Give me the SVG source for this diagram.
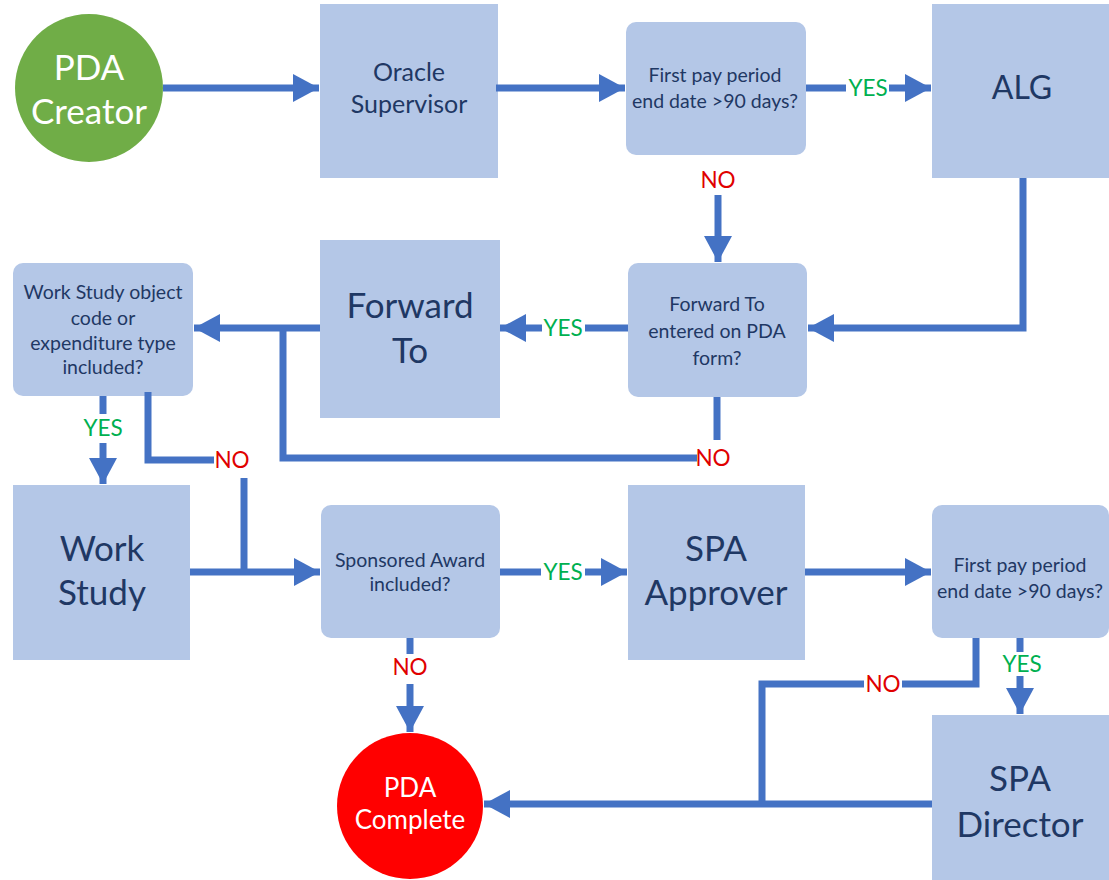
<svg xmlns="http://www.w3.org/2000/svg" width="1109" height="880" viewBox="0 0 1109 880">
<style>
.box{fill:#b4c7e7}
.t{font-family:Lato,"Open Sans",sans-serif;fill:#1f3864;text-anchor:middle}
.d{font-size:19.5px}
.big{font-size:35px}
.w{font-family:Lato,"Open Sans",sans-serif;fill:#ffffff;text-anchor:middle}
.c{fill:none;stroke:#4472c4;stroke-width:7}
.a{marker-end:url(#ah)}
.yes{font-family:Lato,"Open Sans",sans-serif;fill:#00b050;font-size:22.5px;text-anchor:middle}
.no{font-family:Lato,"Open Sans",sans-serif;fill:#e00000;font-size:22.5px;text-anchor:middle}
</style>
<defs>
<marker id="ah" viewBox="0 0 26 28" markerWidth="26" markerHeight="28" refX="26" refY="14" orient="auto" markerUnits="userSpaceOnUse">
<path d="M0,0 L26,14 L0,28 z" fill="#4472c4"/>
</marker>
</defs>
<rect width="1109" height="880" fill="#ffffff"/>

<g id="pda-creator">
<circle cx="89" cy="88" r="74" fill="#70ad47"/>
<text class="w" x="89" y="80" font-size="35">PDA</text>
<text class="w" x="89" y="124" font-size="35">Creator</text>
</g>
<g id="oracle-supervisor">
<rect class="box" x="320" y="4" width="178" height="174"/>
<text class="t" x="409" y="81" font-size="25">Oracle</text>
<text class="t" x="409" y="113" font-size="25">Supervisor</text>
</g>
<g id="decision-90days-1">
<rect class="box" x="626" y="22" width="180" height="133" rx="10"/>
<text class="t d" x="715" y="82">First pay period</text>
<text class="t d" x="715" y="108">end date &gt;90 days?</text>
</g>
<g id="alg">
<rect class="box" x="932" y="4" width="177" height="174"/>
<text class="t" x="1022" y="99" font-size="32">ALG</text>
</g>
<g id="decision-forward">
<rect class="box" x="628" y="263" width="179" height="134" rx="10"/>
<text class="t d" x="717" y="311">Forward To</text>
<text class="t d" x="717" y="338">entered on PDA</text>
<text class="t d" x="717" y="365">form?</text>
</g>
<g id="forward-to">
<rect class="box" x="320" y="240" width="180" height="178"/>
<text class="t big" x="410" y="318">Forward</text>
<text class="t big" x="410" y="363">To</text>
</g>
<g id="decision-workstudy">
<rect class="box" x="13" y="263" width="180" height="133" rx="10"/>
<text class="t d" x="103" y="299">Work Study object</text>
<text class="t d" x="103" y="325">code or</text>
<text class="t d" x="103" y="350">expenditure type</text>
<text class="t d" x="103" y="374">included?</text>
</g>
<g id="work-study">
<rect class="box" x="13" y="485" width="177" height="175"/>
<text class="t big" x="102" y="561">Work</text>
<text class="t big" x="102" y="605">Study</text>
</g>
<g id="decision-sponsored">
<rect class="box" x="321" y="505" width="179" height="133" rx="10"/>
<text class="t d" x="410" y="567">Sponsored Award</text>
<text class="t d" x="410" y="591">included?</text>
</g>
<g id="spa-approver">
<rect class="box" x="628" y="485" width="177" height="175"/>
<text class="t big" x="716" y="561">SPA</text>
<text class="t big" x="716" y="605">Approver</text>
</g>
<g id="decision-90days-2">
<rect class="box" x="932" y="505" width="177" height="133" rx="10"/>
<text class="t d" x="1020" y="572">First pay period</text>
<text class="t d" x="1020" y="598">end date &gt;90 days?</text>
</g>
<g id="spa-director">
<rect class="box" x="932" y="715" width="177" height="165"/>
<text class="t big" x="1020" y="791">SPA</text>
<text class="t big" x="1020" y="837">Director</text>
</g>
<g id="pda-complete">
<circle cx="410" cy="806" r="73" fill="#ff0000"/>
<text class="w" x="410" y="797" font-size="26">PDA</text>
<text class="w" x="410" y="829" font-size="26">Complete</text>
</g>

<g id="connectors">
<path class="c a" d="M163,88 H319"/>
<path class="c a" d="M496,88 H625"/>
<path class="c" d="M806,88 H846"/>
<path class="c a" d="M889,88 H931"/>
<path class="c a" d="M1023,178 V328 H808"/>
<path class="c a" d="M718,195 V262"/>
<path class="c" d="M628,328 H585"/>
<path class="c a" d="M542,328 H500"/>
<path class="c a" d="M320,328 H194"/>
<path class="c" d="M717,397 V440"/>
<path class="c" d="M697,458 H283 V328"/>
<path class="c" d="M103,396 V414"/>
<path class="c a" d="M103,443 V484"/>
<path class="c" d="M148,392 V460 H214"/>
<path class="c" d="M244,478 V572"/>
<path class="c a" d="M190,572 H320"/>
<path class="c" d="M500,572 H541"/>
<path class="c a" d="M585,572 H627"/>
<path class="c a" d="M805,572 H931"/>
<path class="c" d="M976,638 V684 H902"/>
<path class="c" d="M864,684 H762 V804"/>
<path class="c" d="M1020,638 V652"/>
<path class="c a" d="M1020,676 V714"/>
<path class="c a" d="M932,804 H484"/>
<path class="c" d="M410,638 V654"/>
<path class="c a" d="M410,684 V732"/>
<text class="yes" x="868" y="96">YES</text>
<text class="no" x="718" y="188">NO</text>
<text class="yes" x="563" y="336">YES</text>
<text class="no" x="713" y="466">NO</text>
<text class="yes" x="103" y="436">YES</text>
<text class="no" x="232" y="468">NO</text>
<text class="yes" x="563" y="580">YES</text>
<text class="no" x="883" y="692">NO</text>
<text class="yes" x="1022" y="672">YES</text>
<text class="no" x="410" y="675">NO</text>
</g>
</svg>
